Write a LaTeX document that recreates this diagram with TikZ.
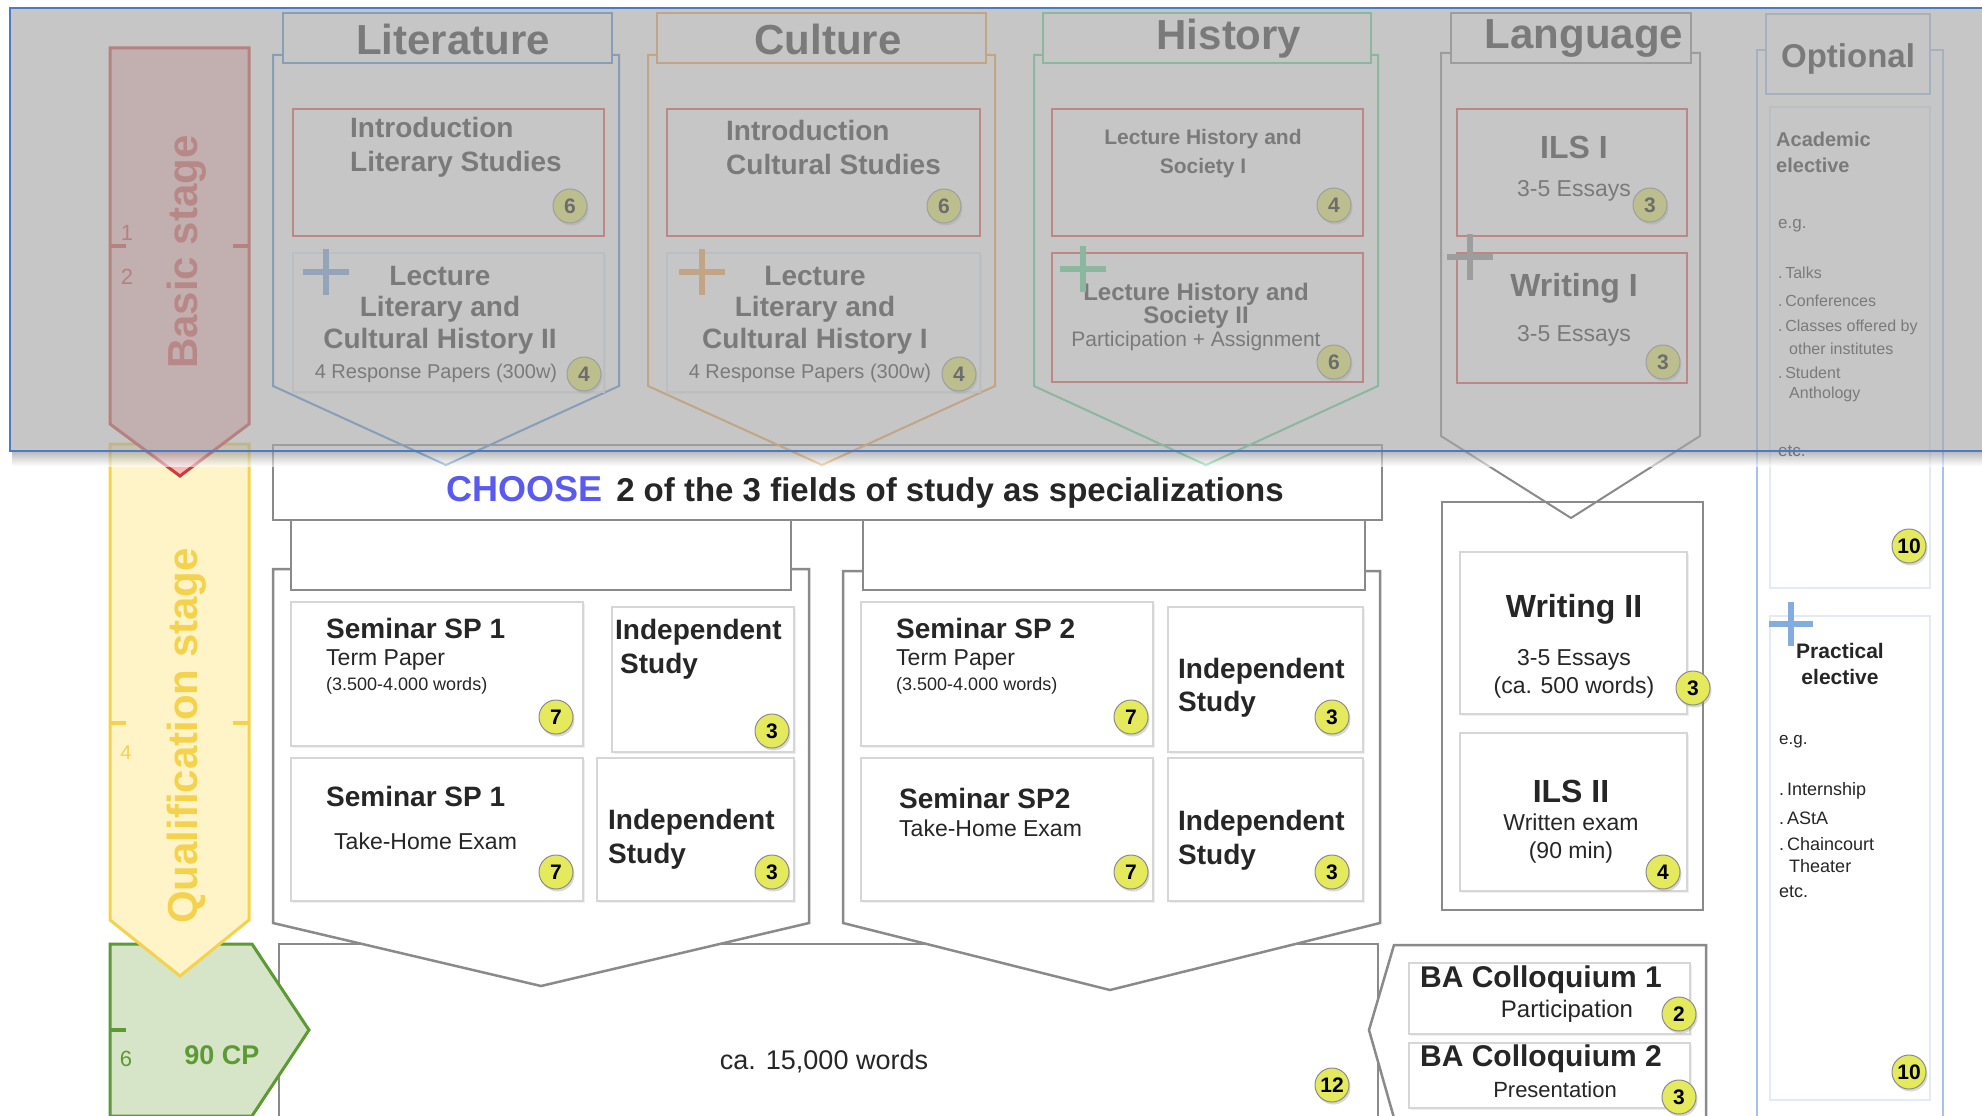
\documentclass[tikz,border=0pt]{standalone}
\usepackage{fontspec}
\setmainfont{Liberation Sans}
\usepackage{tikz}
\usetikzlibrary{positioning}
\usetikzlibrary{shadows}

\newcommand\fsz[2]{\fontsize{#1}{#2}\selectfont}

\definecolor{litblue}{HTML}{4F8AD2}
\definecolor{cultorange}{HTML}{F2A045}
\definecolor{histgreen}{HTML}{55D48C}
\definecolor{modred}{HTML}{E24A4A}
\definecolor{framegray}{HTML}{8A8A8A}
\definecolor{modgray}{HTML}{D6D6D6}
\definecolor{optblue}{HTML}{A4C2EA}
\definecolor{optfaint}{HTML}{E2EAF4}
\definecolor{badgefill}{HTML}{E4EA5C}
\definecolor{stagered}{HTML}{D23A3A}
\definecolor{stagepink}{HTML}{F4BDBD}
\definecolor{stageyellow}{HTML}{F5D24E}
\definecolor{paleyellow}{HTML}{FFF4C8}
\definecolor{stagegreen}{HTML}{5C9A34}
\definecolor{palegreen}{HTML}{D6E4C8}
\definecolor{chooseblue}{HTML}{5A5AF0}
\definecolor{veil}{HTML}{A8A8A8}
\definecolor{veilblue}{HTML}{4A7BC8}

\begin{document}
\begin{tikzpicture}[x=1pt,y=-1pt,
  frame/.style={draw=framegray,line width=2.5pt,fill=white},
  modbox/.style={draw=modgray,line width=1.2pt,fill=white,
    drop shadow={opacity=0.12,shadow xshift=2pt,shadow yshift=-2pt}},
  redbox/.style={draw=modred,line width=2pt,fill=white},
  hdrbox/.style={draw=#1,line width=2pt,fill=white},
  colarrow/.style={draw=#1,line width=2pt},
  plus/.style={draw=#1,line width=6pt},
  badge/.style={circle,draw=black!45,line width=1pt,fill=badgefill,
    minimum size=34pt,inner sep=0pt,font=\bfseries\fsz{21}{21},
    drop shadow={opacity=0.3,shadow xshift=1.5pt,shadow yshift=-2.5pt}},
  txt/.style={inner sep=0pt,align=center,text=black!85},
  ltxt/.style={inner sep=0pt,align=left,anchor=west,text=black!85},
]
\useasboundingbox (0,0) rectangle (1982,1116);
\fill[white] (0,0) rectangle (1982,1116);

% optional column
\draw[optblue,line width=2.5pt] (1757,50) rectangle (1943,1130);
\draw[optfaint,line width=1.2pt,fill=white] (1770,107) rectangle (1930,588);
\draw[optfaint,line width=1.2pt,fill=white] (1770,616) rectangle (1930,1100);
\draw[hdrbox=optblue] (1766,14) rectangle (1930,94);
\node[txt,font=\bfseries\fsz{33}{33}] (tOpt) at (1848,59) {Optional};
\node[ltxt,font=\bfseries\fsz{20}{26}] (tAcad) at (1776,152) {Academic\\elective};
\node[ltxt,font=\fsz{17}{17}] (oEg) at (1778,226) {e.g.};
\node[ltxt,font=\fsz{16}{16}] (oTalks) at (1778,273) {.\,Talks};
\node[ltxt,font=\fsz{16}{16}] (oConf) at (1778,301) {.\,Conferences};
\node[ltxt,font=\fsz{16}{16}] (oClass) at (1778,327) {.\,Classes offered by};
\node[ltxt,font=\fsz{16}{16}] (oInst) at (1789,349) {other institutes};
\node[ltxt,font=\fsz{16}{16}] (oStud) at (1778,373) {.\,Student};
\node[ltxt,font=\fsz{16}{16}] (oAnth) at (1789,394) {Anthology};
\node[ltxt,font=\fsz{17}{17}] (oEtc) at (1778,451) {etc.};
\node[badge] (bAcad) at (1909,546) {10};
\draw[plus=litblue!70] (1791,602) -- (1791,646) (1769,624) -- (1813,624);
\node[txt,font=\bfseries\fsz{21}{26}] (tPract) at (1840,664) {Practical\\elective};
\node[ltxt,font=\fsz{17}{17}] (pEg) at (1779,742) {e.g.};
\node[ltxt,font=\fsz{18}{18}] (pIntern) at (1779,791) {.\,Internship};
\node[ltxt,font=\fsz{18}{18}] (pAsta) at (1779,818) {.\,AStA};
\node[ltxt,font=\fsz{18}{18}] (pChain) at (1779,844) {.\,Chaincourt};
\node[ltxt,font=\fsz{18}{18}] (pTheat) at (1789,866) {Theater};
\node[ltxt,font=\fsz{18}{18}] (pEtc) at (1779,892) {etc.};
\node[badge] (bPract) at (1909,1072) {10};

% lower frames
\draw[frame] (279,944) rectangle (1378,1125);
\node[txt,font=\fsz{27}{27}] (tThesis) at (824,1061) {ca. 15,000 words};
\node[badge] (bThesis) at (1332,1085) {12};
\draw[frame] (273,445) rectangle (1382,520);
\node[txt,font=\bfseries\fsz{33}{33}] (tChoose) at (865,492)
  {{\color{chooseblue}\fsz{36}{36}CHOOSE}\hspace{14pt}2 of the 3 fields of study as specializations};
\draw[frame] (273,569) -- (809,569) -- (809,923) -- (541,986) -- (273,923) -- cycle;
\draw[frame] (843,571) -- (1380,571) -- (1380,923) -- (1110,990) -- (843,923) -- cycle;
\draw[frame] (291,520) rectangle (791,590);
\draw[frame] (863,520) rectangle (1365,590);
\draw[frame] (1442,502) rectangle (1703,910);
\draw[frame] (1394,945) -- (1706,945) -- (1706,1125) -- (1396,1125) -- (1369,1030) -- cycle;

% specialization 1
\draw[modbox] (291,602) rectangle (583,746);
\node[ltxt,font=\bfseries\fsz{28}{28}] (s1a) at (326,628) {Seminar SP 1};
\node[ltxt,font=\fsz{23}{23}] (s1b) at (326,660) {Term Paper};
\node[ltxt,font=\fsz{18}{18}] (s1c) at (326,686) {(3.500-4.000 words)};
\node[badge] (bS1a) at (556,717) {7};
\draw[modbox] (612,607) rectangle (794,752);
\node[ltxt,font=\bfseries\fsz{28}{34}] (i1a) at (615,649) {Independent\\\hspace*{5pt}Study};
\node[badge] (bI1a) at (772,731) {3};
\draw[modbox] (291,758) rectangle (583,901);
\node[ltxt,font=\bfseries\fsz{28}{28}] (s1d) at (326,796) {Seminar SP 1};
\node[ltxt,font=\fsz{23}{23}] (s1e) at (334,841) {Take-Home Exam};
\node[badge] (bS1b) at (556,872) {7};
\draw[modbox] (597,758) rectangle (794,901);
\node[ltxt,font=\bfseries\fsz{28}{34}] (i1b) at (608,839) {Independent\\Study};
\node[badge] (bI1b) at (772,872) {3};

% specialization 2
\draw[modbox] (861,602) rectangle (1153,746);
\node[ltxt,font=\bfseries\fsz{28}{28}] (s2a) at (896,628) {Seminar SP 2};
\node[ltxt,font=\fsz{23}{23}] (s2b) at (896,660) {Term Paper};
\node[ltxt,font=\fsz{18}{18}] (s2c) at (896,686) {(3.500-4.000 words)};
\node[badge] (bS2a) at (1131,717) {7};
\draw[modbox] (1168,607) rectangle (1363,752);
\node[ltxt,font=\bfseries\fsz{28}{33}] (i2a) at (1178,688) {Independent\\Study};
\node[badge] (bI2a) at (1332,717) {3};
\draw[modbox] (861,758) rectangle (1153,901);
\node[ltxt,font=\bfseries\fsz{28}{28}] (s2d) at (899,798) {Seminar SP2};
\node[ltxt,font=\fsz{23}{23}] (s2e) at (899,828) {Take-Home Exam};
\node[badge] (bS2b) at (1131,872) {7};
\draw[modbox] (1168,758) rectangle (1363,901);
\node[ltxt,font=\bfseries\fsz{28}{34}] (i2b) at (1178,840) {Independent\\Study};
\node[badge] (bI2b) at (1332,872) {3};

% language, second part
\draw[modbox] (1460,552) rectangle (1687,714);
\node[txt,font=\bfseries\fsz{32}{32}] (w2a) at (1574,609) {Writing II};
\node[txt,font=\fsz{23}{28}] (w2b) at (1574,674) {3-5 Essays\\(ca. 500 words)};
\node[badge] (bW2) at (1693,688) {3};
\draw[modbox] (1460,733) rectangle (1687,891);
\node[txt,font=\bfseries\fsz{32}{32}] (ils2a) at (1571,791) {ILS II};
\node[txt,font=\fsz{23}{28}] (ils2b) at (1571,839) {Written exam\\(90 min)};
\node[badge] (bIls2) at (1663,872) {4};

% colloquium
\draw[modbox] (1409,963) rectangle (1690,1034);
\node[txt,font=\bfseries\fsz{30}{30}] (ba1a) at (1541,980) {BA Colloquium 1};
\node[txt,font=\fsz{24}{24}] (ba1b) at (1567,1011) {Participation};
\node[badge] (bBa1) at (1679,1014) {2};
\draw[modbox] (1409,1043) rectangle (1690,1108);
\node[txt,font=\bfseries\fsz{30}{30}] (ba2a) at (1541,1059) {BA Colloquium 2};
\node[txt,font=\fsz{22}{22}] (ba2b) at (1555,1090) {Presentation};
\node[badge] (bBa2) at (1679,1097) {3};

% columns of the basic stage
\draw[colarrow=litblue] (273,55) -- (273,386) -- (446,465) -- (619,386) -- (619,55) -- cycle;
\draw[colarrow=cultorange] (648,55) -- (648,386) -- (822,465) -- (995,386) -- (995,55) -- cycle;
\draw[colarrow=histgreen] (1034,55) -- (1034,386) -- (1206,465) -- (1378,386) -- (1378,55) -- cycle;
\draw[colarrow=framegray] (1441,53) -- (1441,436) -- (1571,518) -- (1700,436) -- (1700,53) -- cycle;
\draw[hdrbox=litblue] (283,13) rectangle (612,63);
\node[txt,font=\bfseries\fsz{42}{42}] (tLit) at (453,39) {Literature};
\draw[hdrbox=cultorange] (657,13) rectangle (986,63);
\node[txt,font=\bfseries\fsz{42}{42}] (tCult) at (828,39) {Culture};
\draw[hdrbox=histgreen] (1043,13) rectangle (1371,63);
\node[txt,font=\bfseries\fsz{42}{42}] (tHist) at (1229,39) {History};
\draw[hdrbox=framegray] (1451,13) rectangle (1691,63);
\node[txt,font=\bfseries\fsz{42}{42}] (tLang) at (1584,39) {Language};

% literature
\draw[redbox] (293,109) rectangle (604,236);
\node[ltxt,font=\bfseries\fsz{28}{34}] (litIntro) at (350,147) {Introduction\\Literary Studies};
\node[badge] (bLitIntro) at (570,206) {6};
\draw[modbox,draw=optfaint] (293,253) rectangle (604,392);
\node[txt,font=\bfseries\fsz{28}{31.5}] (litLect) at (440,310) {Lecture\\Literary and\\Cultural History II};
\node[txt,font=\fsz{20}{20}] (litPap) at (436,373) {4 Response Papers (300w)};
\draw[plus=litblue!80] (326,249) -- (326,295) (303,272) -- (349,272);
\node[badge] (bLitLect) at (584,374) {4};

% culture
\draw[redbox] (667,109) rectangle (980,236);
\node[ltxt,font=\bfseries\fsz{28}{34}] (cultIntro) at (726,147) {Introduction\\Cultural Studies};
\node[badge] (bCultIntro) at (944,206) {6};
\draw[modbox,draw=optfaint] (667,253) rectangle (980,392);
\node[txt,font=\bfseries\fsz{28}{31.5}] (cultLect) at (815,310) {Lecture\\Literary and\\Cultural History I};
\node[txt,font=\fsz{20}{20}] (cultPap) at (810,373) {4 Response Papers (300w)};
\draw[plus=cultorange] (702,249) -- (702,295) (679,272) -- (725,272);
\node[badge] (bCultLect) at (959,374) {4};

% history
\draw[redbox] (1052,109) rectangle (1363,236);
\node[txt,font=\bfseries\fsz{21}{29}] (histLect1) at (1203,154) {Lecture History and\\Society I};
\node[badge] (bHist1) at (1334,205) {4};
\draw[redbox] (1052,253) rectangle (1363,382);
\node[txt,font=\bfseries\fsz{24}{22}] (histLect2) at (1196,306) {Lecture History and\\Society II};
\node[txt,font=\fsz{21}{21}] (histAss) at (1196,341) {Participation + Assignment};
\draw[plus=histgreen] (1083,246) -- (1083,292) (1060,269) -- (1106,269);
\node[badge] (bHist2) at (1334,362) {6};

% language, first part
\draw[redbox] (1457,109) rectangle (1687,236);
\node[txt,font=\bfseries\fsz{32}{32}] (ils1a) at (1574,147) {ILS I};
\node[txt,font=\fsz{23}{23}] (ils1b) at (1574,191) {3-5 Essays};
\node[badge] (bIls1) at (1650,205) {3};
\draw[redbox] (1457,253) rectangle (1687,383);
\node[txt,font=\bfseries\fsz{32}{32}] (w1a) at (1574,288) {Writing I};
\node[txt,font=\fsz{23}{23}] (w1b) at (1574,336) {3-5 Essays};
\node[badge] (bW1) at (1663,362) {3};
\draw[plus=framegray] (1470,234) -- (1470,280) (1447,257) -- (1493,257);

% stages
\draw[draw=stagegreen,fill=palegreen,line width=3pt]
  (110,944) -- (252,944) -- (309,1030) -- (252,1116) -- (110,1116) -- cycle;
\draw[stagegreen,line width=4pt] (110,1030) -- (126,1030);
\node[txt,text=stagegreen,font=\fsz{22}{22}] (n6) at (126,1059) {6};
\node[txt,text=stagegreen,font=\bfseries\fsz{27}{27}] (tCP) at (222,1055) {90 CP};
\draw[draw=stageyellow,fill=paleyellow,line width=3pt]
  (110,444) -- (249,444) -- (249,920) -- (180,976) -- (110,920) -- cycle;
\draw[stageyellow,line width=4pt] (110,723) -- (126,723) (233,723) -- (249,723);
\node[txt,text=stageyellow,font=\fsz{20}{20}] (n4) at (126,753) {4};
\node[txt,text=stageyellow,font=\bfseries\fsz{42}{42},rotate=90] (tQual) at (187,736) {Qualification stage};
\draw[draw=stagered,fill=stagepink,line width=3pt]
  (110,48) -- (249,48) -- (249,424) -- (180,476) -- (110,424) -- cycle;
\draw[stagered,line width=4pt] (110,246) -- (126,246) (233,246) -- (249,246);
\node[txt,text=stagered,font=\fsz{22}{22}] (n1) at (127,233) {1};
\node[txt,text=stagered,font=\fsz{22}{22}] (n2) at (127,277) {2};
\node[txt,text=stagered!90,font=\bfseries\fsz{42}{42},rotate=90] (tBasic) at (187,252) {Basic stage};

% the basic stage is greyed out
\shade[top color=black!45,bottom color=white,opacity=0.6] (12,451) rectangle (1982,466);
\fill[veil,fill opacity=0.65] (10,8) rectangle (1990,451);
\draw[veilblue,line width=2pt] (10,8) rectangle (1990,451);
\end{tikzpicture}
\end{document}
